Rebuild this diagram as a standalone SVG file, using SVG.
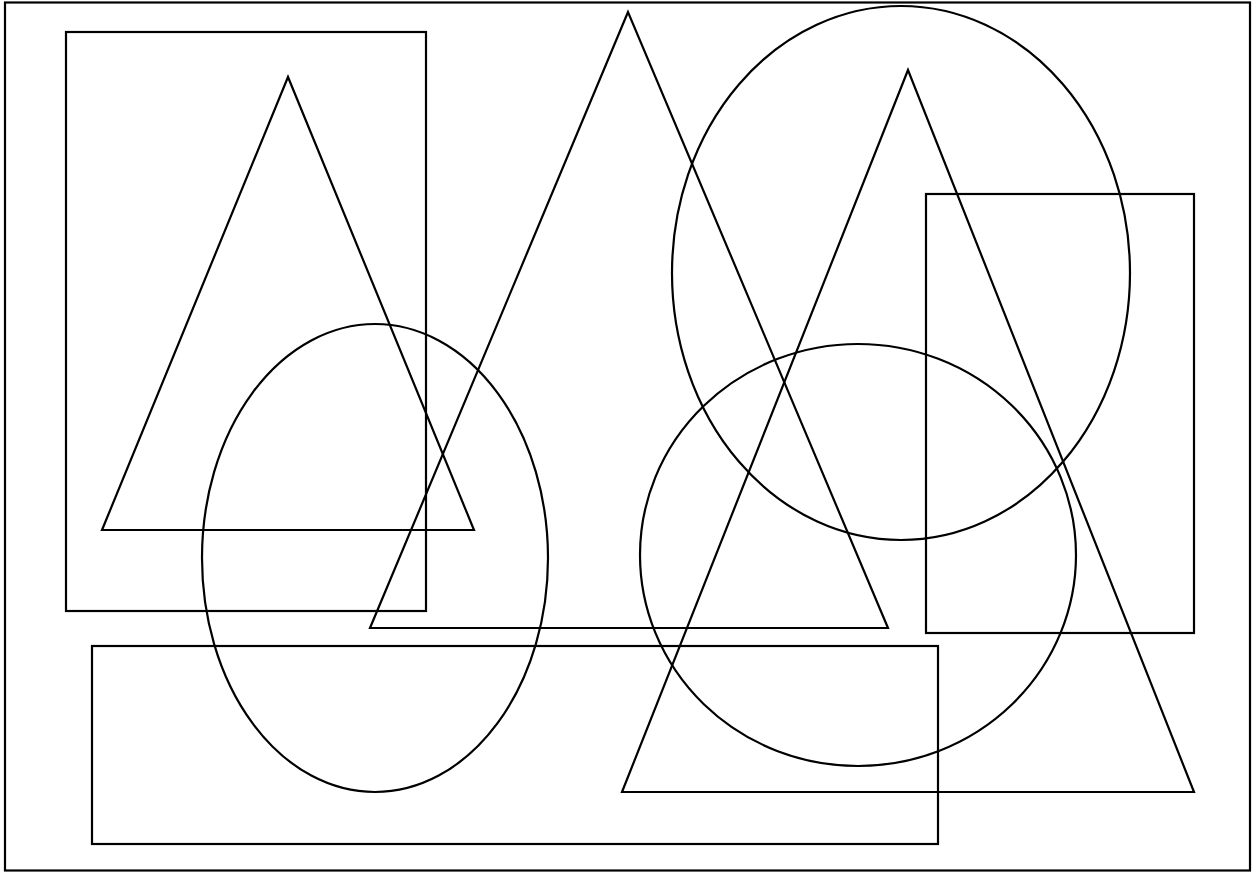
<svg xmlns="http://www.w3.org/2000/svg" width="1253" height="872" viewBox="0 0 1253 872">
<style>
.s{fill:none;stroke:#000;stroke-width:2.2;stroke-linejoin:miter}
</style>
<rect width="1253" height="872" fill="#fff"/>
<rect id="border" class="s" x="5" y="2.5" width="1245" height="868"/>
<rect id="rect1" class="s" x="66" y="32" width="360" height="579"/>
<polygon id="tri1" class="s" points="288,77 102,530 474,530"/>
<polygon id="tri2" class="s" points="628,12 370,628 888,628"/>
<ellipse id="ell1" class="s" cx="375" cy="558" rx="173" ry="234"/>
<ellipse id="ell2" class="s" cx="901" cy="273" rx="229" ry="267"/>
<polygon id="tri3" class="s" points="908,70 622,792 1194,792"/>
<rect id="rect2" class="s" x="926" y="194" width="268" height="439"/>
<ellipse id="ell3" class="s" cx="858" cy="555" rx="218" ry="211"/>
<rect id="rect3" class="s" x="92" y="646" width="846" height="198"/>
</svg>
